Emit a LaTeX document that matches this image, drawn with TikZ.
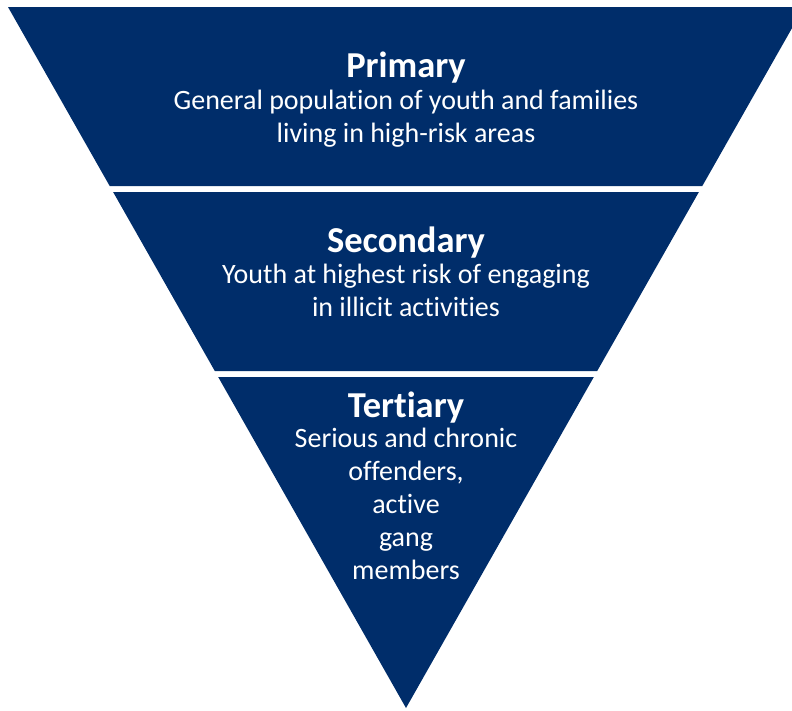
\documentclass[tikz,border=0pt]{standalone}
\usepackage{fontspec}
\setmainfont{Carlito}[Ligatures=NoCommon]
\definecolor{navy}{RGB}{0,45,106}
\begin{document}
\begin{tikzpicture}[x=1pt, y=-1pt,
  band/.style={fill=navy, draw=none},
  title/.style={text=white, font=\fontsize{36.5}{38}\selectfont\bfseries, anchor=base, inner sep=0pt},
  body/.style={text=white, font=\fontsize{28}{33}\selectfont, align=center, anchor=base, inner sep=0pt}]
\useasboundingbox (0,0) rectangle (792,710);
\clip (0,0) rectangle (792,710);

% Level 1 - Primary
\fill[band] (8,7) -- (804,7) -- (702.3,186) -- (109.7,186) -- cycle;
\node[title] (prim) at (406,77) {Primary};
\node[body] (primtxt) at (406,142) {General population of youth and families\\living in high-risk areas};

% Level 2 - Secondary
\fill[band] (113.1,192) -- (698.9,192) -- (597.2,371) -- (214.8,371) -- cycle;
\node[title] (sec) at (406,252) {Secondary};
\node[body] (sectxt) at (406,316) {Youth at highest risk of engaging\\in illicit activities};

% Level 3 - Tertiary
\fill[band] (218.2,377) -- (593.8,377) -- (406,708) -- cycle;
\node[title] (ter) at (406,417) {Tertiary};
\node[body] (tertxt) at (406,579) {Serious and chronic\\offenders,\\active\\gang\\members};
\end{tikzpicture}
\end{document}
